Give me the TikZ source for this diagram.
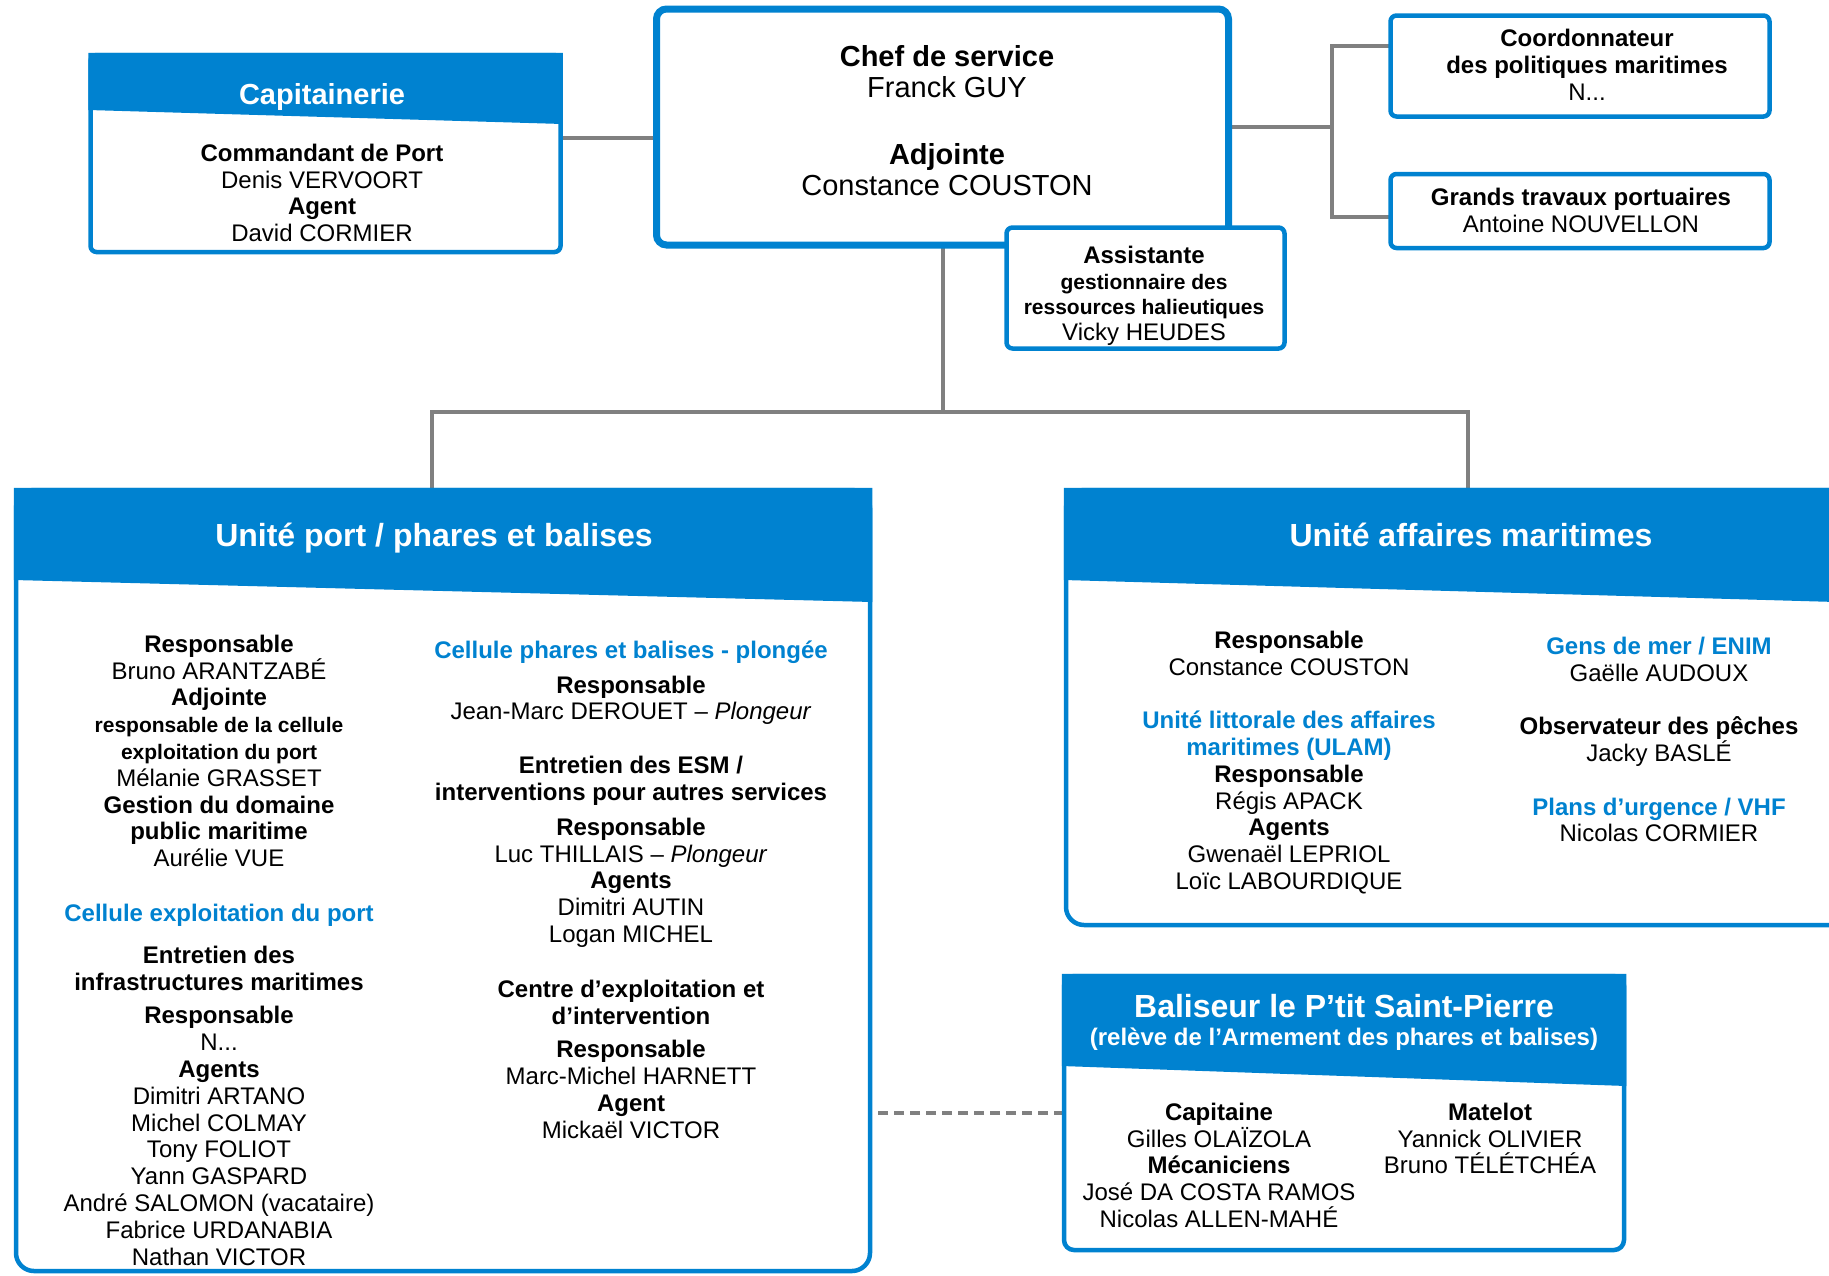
\documentclass[tikz,border=0pt]{standalone}
\usepackage{fontspec}
\setmainfont{Liberation Sans}
\usetikzlibrary{calc,backgrounds}
\definecolor{dirblue}{RGB}{0,130,208}
\definecolor{linkgray}{RGB}{128,128,128}

\newcommand{\tstrut}{\rule{0pt}{24pt}}
\newcommand{\bluehead}[1]{{\color{dirblue}\bfseries #1}}
\newcommand{\smallbold}[1]{{\fontsize{21}{24}\selectfont\bfseries #1}}
% blue title band on top of a box: node, left depth, right depth
\newcommand{\band}[3]{\fill[dirblue] ($(#1.north west)+(-2.25,-2.25)$) -- ($(#1.north east)+(2.25,-2.25)$) -- ($(#1.north east)+(2.25,#3)$) -- ($(#1.north west)+(-2.25,#2)$) -- cycle;}

\tikzset{
	unit/.style={draw=dirblue, line width=4.5pt, fill=white, rounded corners=18pt, inner sep=0pt, outer sep=0pt},
	card/.style={unit, rounded corners=6pt},
	txt/.style={align=center, inner sep=0pt, anchor=north, font=\fontsize{24}{26.8}\selectfont},
	head/.style={text=white, inner sep=0pt, anchor=base, font=\fontsize{32}{36}\selectfont\bfseries},
	link/.style={draw=linkgray, line width=4pt},
	dashlink/.style={link, dash pattern=on 10pt off 6pt}
}

\begin{document}
\begin{tikzpicture}[x=1pt, y=-1pt]
	\useasboundingbox (0,0) rectangle (1829,1275);
	
	% top boxes
	\node[card, minimum width=470pt, minimum height=197pt] (capit) at (325.5,153.5) {};
	\band{capit}{55}{69}
	\node[head, font=\fontsize{29}{32}\selectfont\bfseries] (capitT) at (322,104) {Capitainerie};
	\node[txt] (capitN) at (322,137) {\tstrut\textbf{Commandant de Port}\\Denis VERVOORT\\\textbf{Agent}\\David CORMIER};
	
	\node[card, line width=7pt, rounded corners=10pt, minimum width=572pt, minimum height=236pt] (chef) at (942.5,127) {};
	\node[txt, font=\fontsize{29}{31.5}\selectfont] (chefN) at (947,37) {\rule{0pt}{29pt}\textbf{Chef de service}\\Franck GUY\\[35pt]\textbf{Adjointe}\\Constance COUSTON};
	
	\node[card, minimum width=278pt, minimum height=121pt] (assist) at (1145.5,288) {};
	\node[txt, font=\fontsize{24}{25.5}\selectfont] (assistN) at (1144,239.5) {\tstrut\textbf{Assistante}\\\smallbold{gestionnaire des}\\\smallbold{ressources halieutiques}\\Vicky HEUDES};
	
	\node[card, minimum width=379pt, minimum height=101pt] (coord) at (1580,66) {};
	\node[txt] (coordN) at (1587,22.5) {\tstrut\textbf{Coordonnateur}\\\textbf{des politiques maritimes}\\N...};
	
	\node[card, minimum width=379pt, minimum height=74pt] (grands) at (1580,211) {};
	\node[txt] (grandsN) at (1581,181) {\tstrut\textbf{Grands travaux portuaires}\\Antoine NOUVELLON};
	
	% unit port
	\node[unit, minimum width=854pt, minimum height=781pt] (port) at (443,880.5) {};
	\band{port}{90}{112}
	\node[head] (portT) at (434,546) {Unité port / phares et balises};
	\node[txt] (portA) at (219,628) {\tstrut\textbf{Responsable}\\Bruno ARANTZABÉ\\\textbf{Adjointe}\\\smallbold{responsable de la cellule}\\\smallbold{exploitation du port}\\Mélanie GRASSET\\\textbf{Gestion du domaine}\\\textbf{public maritime}\\Aurélie VUE\\[28pt]\bluehead{Cellule exploitation du port}\\[15pt]\textbf{Entretien des}\\\textbf{infrastructures maritimes}\\[7pt]\textbf{Responsable}\\N...\\\textbf{Agents}\\Dimitri ARTANO\\Michel COLMAY\\Tony FOLIOT\\Yann GASPARD\\André SALOMON (vacataire)\\Fabrice URDANABIA\\Nathan VICTOR};
	\node[txt] (portB) at (631,634) {\tstrut\bluehead{Cellule phares et balises - plongée}\\[8pt]\textbf{Responsable}\\Jean-Marc DEROUET – \textit{Plongeur}\\[27pt]\textbf{Entretien des ESM /}\\\textbf{interventions pour autres services}\\[8pt]\textbf{Responsable}\\Luc THILLAIS – \textit{Plongeur}\\\textbf{Agents}\\Dimitri AUTIN\\Logan MICHEL\\[28pt]\textbf{Centre d’exploitation et}\\\textbf{d’intervention}\\[7pt]\textbf{Responsable}\\Marc-Michel HARNETT\\\textbf{Agent}\\Mickaël VICTOR};
	
	% unit affaires maritimes
	\node[unit, minimum width=803pt, minimum height=435pt] (affaires) at (1467.5,707.5) {};
	\band{affaires}{90}{113}
	\node[head] (affairesT) at (1471,546) {Unité affaires maritimes};
	\node[txt] (affA) at (1289,624) {\tstrut\textbf{Responsable}\\Constance COUSTON\\[26.8pt]\bluehead{Unité littorale des affaires}\\\bluehead{maritimes (ULAM)}\\\textbf{Responsable}\\Régis APACK\\\textbf{Agents}\\Gwenaël LEPRIOL\\Loïc LABOURDIQUE};
	\node[txt] (affB) at (1659,630) {\tstrut\bluehead{Gens de mer / ENIM}\\Gaëlle AUDOUX\\[26.8pt]\textbf{Observateur des pêches}\\Jacky BASLÉ\\[26.8pt]\bluehead{Plans d’urgence / VHF}\\Nicolas CORMIER};
	
	% baliseur
	\node[unit, rounded corners=10pt, minimum width=560pt, minimum height=274pt] (balis) at (1344,1113) {};
	\band{balis}{90}{110}
	\node[head] (balisT) at (1344,1017) {Baliseur le P’tit Saint-Pierre};
	\node[head, font=\fontsize{24}{26}\selectfont\bfseries] (balisS) at (1344,1045) {(relève de l’Armement des phares et balises)};
	\node[txt] (balA) at (1219,1096) {\tstrut\textbf{Capitaine}\\Gilles OLAÏZOLA\\\textbf{Mécaniciens}\\José DA COSTA RAMOS\\Nicolas ALLEN-MAHÉ};
	\node[txt] (balB) at (1490,1096) {\tstrut\textbf{Matelot}\\Yannick OLIVIER\\Bruno TÉLÉTCHÉA};
	
	% links
	\begin{scope}[on background layer]
		\draw[link] ([yshift=15.5pt]capit.east) -- ([yshift=15.5pt]capit.east -| chef.west);
		\draw[link] (chef.south) -- ++(0,167) coordinate (hub);
		\draw[link] ([xshift=-11.5pt]port.north) |- (hub) -| (affaires.north);
		\draw[link] (chef.east) -- ++(103.5,0) coordinate (fork);
		\draw[link] ([yshift=20pt]coord.west) -| (fork) |- ([yshift=-6pt]grands.west);
		\draw[dashlink] (balis.west) -- (balis.west -| port.east);
	\end{scope}
\end{tikzpicture}
\end{document}
